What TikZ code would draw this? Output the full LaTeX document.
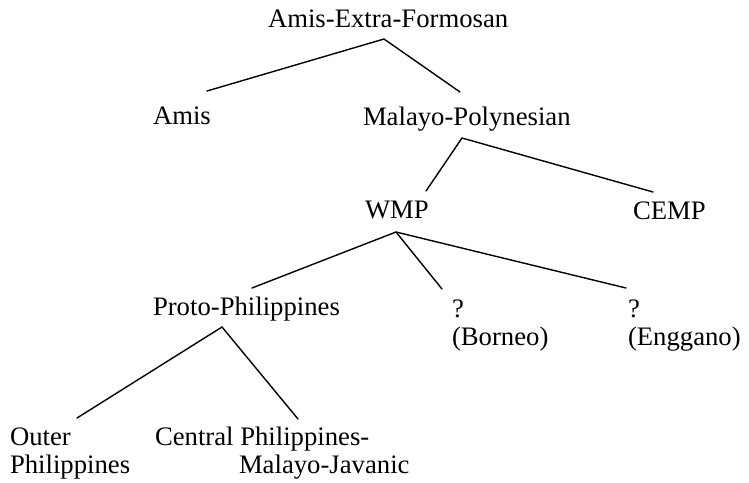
\documentclass[tikz,border=0pt]{standalone}
\usepackage{fontspec}
\setmainfont{Liberation Serif}
\begin{document}
\begin{tikzpicture}[x=1pt,y=-1pt,
  lbl/.style={anchor=base west,inner sep=0pt,outer sep=0pt,font=\fontsize{26.7}{28}\selectfont},
  branch/.style={line width=1.4pt,line cap=round}]
\useasboundingbox (0,0) rectangle (749,482);
% labels
\node[lbl] (aef) at (268,27) {Amis-Extra-Formosan};
\node[lbl] (amis) at (153,124) {Amis};
\node[lbl] (mp) at (363,125) {Malayo-Polynesian};
\node[lbl] (wmp) at (365,218) {WMP};
\node[lbl] (cemp) at (633,219) {CEMP};
\node[lbl] (proto) at (153,315) {Proto-Philippines};
\node[lbl] (borneo) at (452,317) {\begin{tabular}[t]{@{}l@{}}?\\(Borneo)\end{tabular}};
\node[lbl] (enggano) at (628,317) {\begin{tabular}[t]{@{}l@{}}?\\(Enggano)\end{tabular}};
\node[lbl] (outer) at (10,445) {\begin{tabular}[t]{@{}l@{}}Outer\\Philippines\end{tabular}};
\node[lbl] (central) at (155,445) {\begin{tabular}[t]{@{}l@{}}Central Philippines-\\\hspace*{84pt}Malayo-Javanic\end{tabular}};
% branch end points
\coordinate (aef-b) at (384,39);
\coordinate (amis-t) at (207,91);
\coordinate (mp-t) at (460,92);
\coordinate (mp-b) at (462,138);
\coordinate (wmp-t) at (426,191);
\coordinate (cemp-t) at (653,192);
\coordinate (wmp-b) at (396,232);
\coordinate (proto-t) at (252,288);
\coordinate (borneo-t) at (442,289);
\coordinate (enggano-t) at (626,288);
\coordinate (proto-b) at (222,327);
\coordinate (outer-t) at (77,418);
\coordinate (central-t) at (298,419);
% branches
\draw[branch] (amis-t) -- (aef-b) -- (mp-t);
\draw[branch] (wmp-t) -- (mp-b) -- (cemp-t);
\draw[branch] (proto-t) -- (wmp-b) -- (enggano-t);
\draw[branch] (wmp-b) -- (borneo-t);
\draw[branch] (outer-t) -- (proto-b) -- (central-t);
\end{tikzpicture}
\end{document}
